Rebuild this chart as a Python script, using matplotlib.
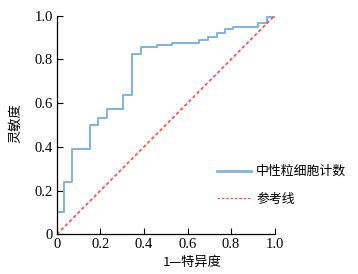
import matplotlib
matplotlib.use("Agg")
import matplotlib.pyplot as plt

# ROC curve values (step curve, steps-post)
fpr = [0, 0, 0.032, 0.07, 0.15, 0.19, 0.228, 0.305, 0.346, 0.385, 0.458,
       0.53, 0.654, 0.696, 0.734, 0.772, 0.811, 0.926, 0.964, 1.0]
tpr = [0, 0.10, 0.238, 0.392, 0.50, 0.533, 0.575, 0.636, 0.825, 0.855, 0.865,
       0.876, 0.888, 0.900, 0.919, 0.938, 0.948, 0.968, 0.993, 1.0]
ref_x = [0, 1]
ref_y = [0, 1]

xticks = [0, 0.2, 0.4, 0.6, 0.8, 1.0]
yticks = [0, 0.2, 0.4, 0.6, 0.8, 1.0]
tick_labels = ["0", "0.2", "0.4", "0.6", "0.8", "1.0"]

series_label = "中性粒细胞计数"
ref_label = "参考线"
xlabel = "1\u2014特异度"
ylabel = "灵敏度"

cjk = ["Noto Sans CJK SC", "DejaVu Sans"]
num_font = "Liberation Serif"

fig = plt.figure(figsize=(3.58, 2.74), dpi=100)
ax = fig.add_axes([0.159, 0.145, 0.608, 0.798])

ax.plot(fpr, tpr, drawstyle="steps-post", color="#7fb3e3", lw=1.4,
        label=series_label)
ax.plot(ref_x, ref_y, color="#ff4a4a", lw=1.2, ls=(0, (2, 1.5)),
        label=ref_label)

ax.set_xlim(0, 1)
ax.set_ylim(0, 1)
ax.set_xticks(xticks)
ax.set_yticks(yticks)
ax.set_xticklabels(tick_labels, fontfamily=num_font, fontsize=10.5)
ax.set_yticklabels(tick_labels, fontfamily=num_font, fontsize=10.5)
ax.tick_params(direction="in", length=4, width=0.8, pad=3)
for s in ["top", "right"]:
    ax.spines[s].set_visible(False)
for s in ["left", "bottom"]:
    ax.spines[s].set_linewidth(0.9)

fig.text(0.455, 0.02, xlabel, family=cjk, fontsize=9.5, ha="left", va="bottom")
fig.text(0.025, 0.55, ylabel, family=cjk, fontsize=9.5, rotation=90,
         ha="left", va="center")

leg = ax.legend(loc="upper left", bbox_to_anchor=(0.575, 0.44),
                bbox_transform=fig.transFigure, frameon=False,
                prop={"family": cjk, "size": 9.3}, handlelength=2.6,
                handletextpad=0.4, labelspacing=1.15)
leg.get_lines()[0].set_linewidth(2.0)
leg.get_lines()[1].set_linewidth(0.9)

fig.savefig("out.png", dpi=100)
